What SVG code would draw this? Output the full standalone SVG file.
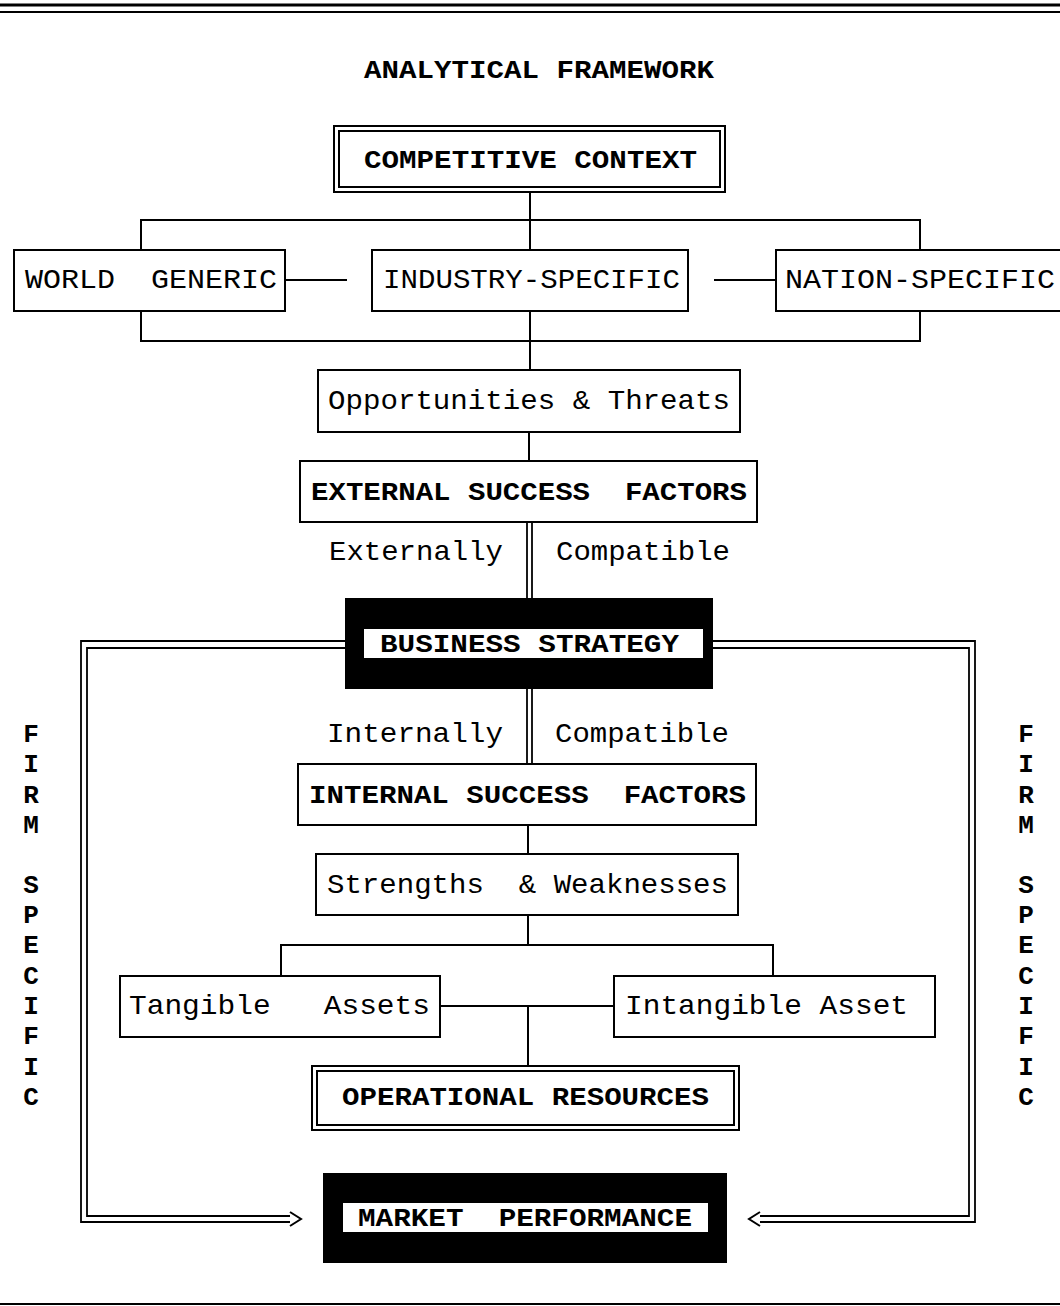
<svg xmlns="http://www.w3.org/2000/svg" width="1060" height="1306" viewBox="0 0 1060 1306">
<style>
text{white-space:pre}
.bx{fill:#fff;stroke:#000;stroke-width:2}
.ln{fill:none;stroke:#000;stroke-width:2}
.dl{fill:none;stroke:#000;stroke-width:1.8}
.r{font-family:"Liberation Mono","Courier New",monospace;font-size:28px;fill:#000}
.b{font-family:"Liberation Mono","Courier New",monospace;font-size:26px;font-weight:bold;fill:#000}
.v{font-family:"Liberation Mono","Courier New",monospace;font-size:26px;font-weight:bold;fill:#000;text-anchor:middle}
.blk{fill:#000}
</style>
<rect width="1060" height="1306" fill="#fff"/>
<g id="rules">
<line x1="0" y1="5" x2="1060" y2="5" stroke="#000" stroke-width="3"/>
<line x1="0" y1="12" x2="1060" y2="12" stroke="#000" stroke-width="2"/>
<line x1="0" y1="1304" x2="1060" y2="1304" stroke="#000" stroke-width="2"/>
</g>
<text id="title" class="b" x="364" y="78" textLength="350" lengthAdjust="spacingAndGlyphs">ANALYTICAL FRAMEWORK</text>
<g id="connectors">
<line class="ln" x1="530" y1="192" x2="530" y2="250"/>
<polyline class="ln" points="141,250 141,220 920,220 920,250"/>
<line class="ln" x1="285" y1="280" x2="347" y2="280"/>
<line class="ln" x1="714" y1="280" x2="776" y2="280"/>
<polyline class="ln" points="141,311 141,341 920,341 920,311"/>
<line class="ln" x1="530" y1="311" x2="530" y2="370"/>
<line class="ln" x1="529" y1="432" x2="529" y2="461"/>
<line class="dl" x1="527" y1="522" x2="527" y2="598"/>
<line class="dl" x1="532" y1="522" x2="532" y2="598"/>
<line class="dl" x1="527" y1="689" x2="527" y2="764"/>
<line class="dl" x1="532" y1="689" x2="532" y2="764"/>
<line class="ln" x1="528" y1="825" x2="528" y2="854"/>
<line class="ln" x1="528" y1="915" x2="528" y2="945"/>
<polyline class="ln" points="281,976 281,945 773,945 773,976"/>
<line class="ln" x1="440" y1="1006" x2="614" y2="1006"/>
<line class="ln" x1="528" y1="1006" x2="528" y2="1066"/>
<polyline class="dl" points="345,641 81,641 81,1222 290,1222"/>
<polyline class="dl" points="345,648 87,648 87,1216 290,1216"/>
<polyline class="ln" points="290,1212 301,1219 290,1226"/>
<polyline class="dl" points="713,641 975,641 975,1222 760,1222"/>
<polyline class="dl" points="713,648 969,648 969,1216 760,1216"/>
<polyline class="ln" points="760,1212 749,1219 760,1226"/>
</g>
<g id="competitive-context">
<rect class="bx" x="334" y="126" width="391" height="66"/>
<rect class="bx" x="339" y="131" width="381" height="56"/>
<text class="b" x="364" y="168" textLength="333" lengthAdjust="spacingAndGlyphs">COMPETITIVE CONTEXT</text>
</g>
<g id="world-generic">
<rect class="bx" x="14" y="250" width="271" height="61"/>
<text class="r" x="25" y="288" textLength="252" lengthAdjust="spacingAndGlyphs">WORLD  GENERIC</text>
</g>
<g id="industry-specific">
<rect class="bx" x="372" y="250" width="316" height="61"/>
<text class="r" x="383" y="288" textLength="297" lengthAdjust="spacingAndGlyphs">INDUSTRY-SPECIFIC</text>
</g>
<g id="nation-specific">
<rect class="bx" x="776" y="250" width="290" height="61"/>
<text class="r" x="785" y="288" textLength="270" lengthAdjust="spacingAndGlyphs">NATION-SPECIFIC</text>
</g>
<g id="opportunities-threats">
<rect class="bx" x="318" y="370" width="422" height="62"/>
<text class="r" x="328" y="409" textLength="402" lengthAdjust="spacingAndGlyphs">Opportunities &amp; Threats</text>
</g>
<g id="external-success-factors">
<rect class="bx" x="300" y="461" width="457" height="61"/>
<text class="b" x="311" y="500" textLength="436" lengthAdjust="spacingAndGlyphs">EXTERNAL SUCCESS  FACTORS</text>
</g>
<g id="externally-compatible">
<text class="r" x="329" y="560" textLength="174" lengthAdjust="spacingAndGlyphs">Externally</text>
<text class="r" x="556" y="560" textLength="174" lengthAdjust="spacingAndGlyphs">Compatible</text>
</g>
<g id="business-strategy">
<rect class="blk" x="345" y="598" width="368" height="91"/>
<rect fill="#fff" x="364" y="629" width="339" height="29"/>
<text class="b" x="380" y="652" textLength="299" lengthAdjust="spacingAndGlyphs">BUSINESS STRATEGY</text>
</g>
<g id="internally-compatible">
<text class="r" x="327" y="742" textLength="176" lengthAdjust="spacingAndGlyphs">Internally</text>
<text class="r" x="555" y="742" textLength="174" lengthAdjust="spacingAndGlyphs">Compatible</text>
</g>
<g id="internal-success-factors">
<rect class="bx" x="298" y="764" width="458" height="61"/>
<text class="b" x="309" y="803" textLength="437" lengthAdjust="spacingAndGlyphs">INTERNAL SUCCESS  FACTORS</text>
</g>
<g id="strengths-weaknesses">
<rect class="bx" x="316" y="854" width="422" height="61"/>
<text class="r" x="327" y="893" textLength="401" lengthAdjust="spacingAndGlyphs">Strengths  &amp; Weaknesses</text>
</g>
<g id="tangible-assets">
<rect class="bx" x="120" y="976" width="320" height="61"/>
<text class="r" x="129" y="1014" textLength="301" lengthAdjust="spacingAndGlyphs">Tangible   Assets</text>
</g>
<g id="intangible-asset">
<rect class="bx" x="614" y="976" width="321" height="61"/>
<text class="r" x="625" y="1014" textLength="283" lengthAdjust="spacingAndGlyphs">Intangible Asset</text>
</g>
<g id="operational-resources">
<rect class="bx" x="312" y="1066" width="427" height="64"/>
<rect class="bx" x="317" y="1071" width="417" height="54"/>
<text class="b" x="342" y="1105" textLength="367" lengthAdjust="spacingAndGlyphs">OPERATIONAL RESOURCES</text>
</g>
<g id="market-performance">
<rect class="blk" x="323" y="1173" width="404" height="90"/>
<rect fill="#fff" x="343" y="1203" width="365" height="29"/>
<text class="b" x="358" y="1226" textLength="334" lengthAdjust="spacingAndGlyphs">MARKET  PERFORMANCE</text>
</g>
<g id="firm-specific-left">
<text class="v" x="31" y="742">F</text>
<text class="v" x="31" y="772">I</text>
<text class="v" x="31" y="803">R</text>
<text class="v" x="31" y="833">M</text>
<text class="v" x="31" y="893">S</text>
<text class="v" x="31" y="923">P</text>
<text class="v" x="31" y="953">E</text>
<text class="v" x="31" y="984">C</text>
<text class="v" x="31" y="1014">I</text>
<text class="v" x="31" y="1044">F</text>
<text class="v" x="31" y="1075">I</text>
<text class="v" x="31" y="1105">C</text>
</g>
<g id="firm-specific-right">
<text class="v" x="1026" y="742">F</text>
<text class="v" x="1026" y="772">I</text>
<text class="v" x="1026" y="803">R</text>
<text class="v" x="1026" y="833">M</text>
<text class="v" x="1026" y="893">S</text>
<text class="v" x="1026" y="923">P</text>
<text class="v" x="1026" y="953">E</text>
<text class="v" x="1026" y="984">C</text>
<text class="v" x="1026" y="1014">I</text>
<text class="v" x="1026" y="1044">F</text>
<text class="v" x="1026" y="1075">I</text>
<text class="v" x="1026" y="1105">C</text>
</g>
</svg>
